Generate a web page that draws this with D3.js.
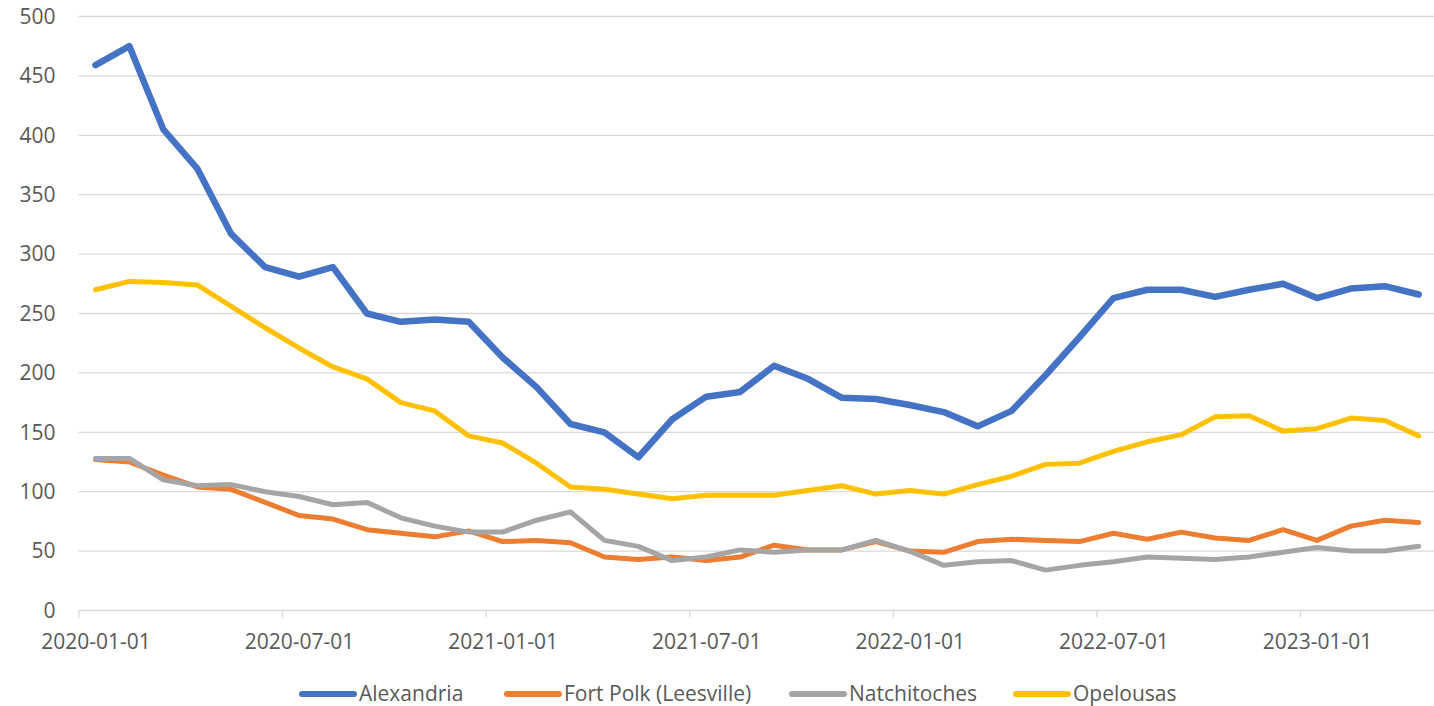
<!DOCTYPE html>
<html>
<head>
<meta charset="utf-8">
<script src="https://cdn.jsdelivr.net/npm/d3@7"></script>
<style>
  html, body { margin: 0; padding: 0; background: #fff; }
  svg { display: block; }
  text { font-family: "Open Sans", sans-serif; fill: #595959; }
</style>
</head>
<body>
<svg id="chart" width="1434" height="706"></svg>
<script>
// Monthly periods, January 2020 through April 2023
const months = [
  "2020-01","2020-02","2020-03","2020-04","2020-05","2020-06","2020-07","2020-08","2020-09","2020-10","2020-11","2020-12",
  "2021-01","2021-02","2021-03","2021-04","2021-05","2021-06","2021-07","2021-08","2021-09","2021-10","2021-11","2021-12",
  "2022-01","2022-02","2022-03","2022-04","2022-05","2022-06","2022-07","2022-08","2022-09","2022-10","2022-11","2022-12",
  "2023-01","2023-02","2023-03","2023-04"
];

const alexandria = [459,475,405,372,317,289,281,289,250,243,245,243,213,188,157,150,129,161,180,184,206,195,179,178,173,167,155,168,198,230,263,270,270,264,270,275,263,271,273,266];
const fortPolk   = [127,125,114,104,102,91,80,77,68,65,62,67,58,59,57,45,43,45,42,45,55,51,51,58,50,49,58,60,59,58,65,60,66,61,59,68,59,71,76,74];
const natchitoches = [128,128,110,105,106,100,96,89,91,78,71,66,66,76,83,59,54,42,45,51,49,51,51,59,50,38,41,42,34,38,41,45,44,43,45,49,53,50,50,54];
const opelousas  = [270,277,276,274,256,238,221,205,195,175,168,147,141,124,104,102,98,94,97,97,97,101,105,98,101,98,106,113,123,124,134,142,148,163,164,151,153,162,160,147];

const seriesNames = ["Alexandria", "Fort Polk (Leesville)", "Natchitoches", "Opelousas"];
const seriesColors = ["#4472C4", "#ED7D31", "#A5A5A5", "#FFC000"];
const seriesWidths = [6.5, 5, 5, 5];
const seriesValues = [alexandria, fortPolk, natchitoches, opelousas];

const xTickMonths = [0, 6, 12, 18, 24, 30, 36];
const xTickLabels = ["2020-01-01","2020-07-01","2021-01-01","2021-07-01","2022-01-01","2022-07-01","2023-01-01"];
const yTicks = [0, 50, 100, 150, 200, 250, 300, 350, 400, 450, 500];

const svg = d3.select("#chart");
const plotLeft = 78.5, monthW = 33.93;
const plotTop = 16.5, plotBottom = 610.5, plotRight = 1434;

// month index axis: each month occupies one unit, points sit in the middle
const x = d3.scaleLinear().domain([0, months.length]).range([plotLeft, plotLeft + months.length * monthW]);
const y = d3.scaleLinear().domain([0, 500]).range([plotBottom, plotTop]);

// horizontal gridlines
svg.append("g")
  .selectAll("line")
  .data(yTicks.filter(d => d > 0))
  .join("line")
  .attr("x1", plotLeft).attr("x2", plotRight)
  .attr("y1", d => y(d)).attr("y2", d => y(d))
  .attr("stroke", "#D9D9D9").attr("stroke-width", 1.3);

// y axis labels
const yAxis = svg.append("g")
  .attr("transform", `translate(${plotLeft},0)`)
  .call(d3.axisLeft(y).tickValues(yTicks).tickSize(0).tickPadding(23));
yAxis.select(".domain").remove();
yAxis.selectAll("text")
  .style("font-size", "21px").style("font-family", "'Open Sans', sans-serif")
  .attr("fill", "#595959");

// x axis with tick marks at month boundaries, labels centred in the month
const halfMonth = monthW / 2;
const xAxis = svg.append("g")
  .attr("transform", `translate(0,${plotBottom})`)
  .call(d3.axisBottom(x)
    .tickValues(xTickMonths)
    .tickFormat((d, i) => xTickLabels[i])
    .tickSizeInner(7).tickSizeOuter(0).tickPadding(17));
xAxis.select(".domain")
  .attr("d", `M${plotLeft},0H${plotRight}`)
  .attr("stroke", "#D9D9D9").attr("stroke-width", 1.3);
xAxis.selectAll(".tick line").attr("stroke", "#D9D9D9").attr("stroke-width", 1.3);
xAxis.selectAll("text")
  .attr("x", halfMonth)
  .style("font-size", "21px").style("font-family", "'Open Sans', sans-serif")
  .attr("fill", "#595959");

// series lines
const line = d3.line()
  .x((d, i) => x(i + 0.5))
  .y(d => y(d));

svg.append("g")
  .selectAll("path")
  .data(seriesValues)
  .join("path")
  .attr("d", d => line(d))
  .attr("fill", "none")
  .attr("stroke", (d, i) => seriesColors[i])
  .attr("stroke-width", (d, i) => seriesWidths[i])
  .attr("stroke-linejoin", "round")
  .attr("stroke-linecap", "round");

// legend
const legendX = [299, 504, 789, 1013];
const legendY = 694;
const legend = svg.append("g")
  .selectAll("g")
  .data(seriesNames)
  .join("g")
  .attr("transform", (d, i) => `translate(${legendX[i]},${legendY})`);
legend.append("line")
  .attr("x1", 3).attr("x2", 55)
  .attr("stroke", (d, i) => seriesColors[i])
  .attr("stroke-width", 6)
  .attr("stroke-linecap", "round");
legend.append("text")
  .attr("x", 60).attr("dy", "0.35em")
  .style("font-size", "21px")
  .text(d => d);
</script>
</body>
</html>
